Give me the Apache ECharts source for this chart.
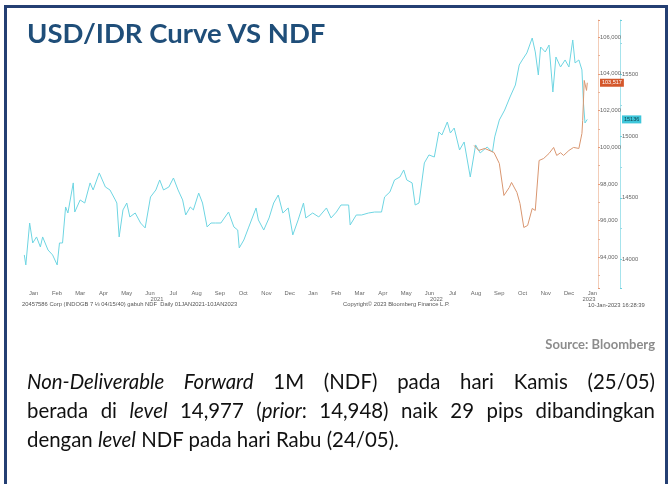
<!DOCTYPE html>
<html>
<head>
<meta charset="utf-8">
<script src="https://cdn.jsdelivr.net/npm/echarts@6/dist/echarts.min.js"></script>
<style>
  html, body { margin:0; padding:0; background:#fff; }
  body { width:671px; height:484px; position:relative; overflow:hidden; font-family: Lato, "Open Sans", sans-serif; }
  #frame { position:absolute; left:4px; top:5px; width:664px; height:520px; box-sizing:border-box;
           border:3px solid #243F73; border-bottom:none; z-index:0; }
  #chart { position:absolute; left:0; top:0; width:671px; height:484px; z-index:1; }
  .txt { position:absolute; z-index:2; white-space:nowrap; }
  #title { left:27px; top:16px; font-weight:700; font-size:27.5px; color:#1F4E79; font-family: Lato, sans-serif; }
  .foot { font-family:"Liberation Sans", sans-serif; font-size:5.8px; color:#555; }
  #source { right:16px; top:336px; font-weight:700; font-size:13px; color:#8C8C8C; font-family: Lato, sans-serif; }
  .para { position:absolute; left:27px; width:628px; z-index:2; font-size:20.4px; line-height:29px; color:#111; font-family: Lato, sans-serif; white-space:nowrap; }
  .just { text-align:justify; text-align-last:justify; }
</style>
</head>
<body>
<div id="frame"></div>
<div id="chart"></div>
<div class="txt" id="title">USD/IDR Curve VS NDF</div>
<div class="txt foot" style="left:22px; top:301px;">20457586 Corp (INDOGB 7 ⅛ 04/15/40) gabuh NDF &nbsp;Daily 01JAN2021-10JAN2023</div>
<div class="txt foot" style="left:343px; top:301px;">Copyright© 2023 Bloomberg Finance L.P.</div>
<div class="txt foot" style="left:588px; top:302px;">10-Jan-2023 16:28:39</div>
<div class="txt" id="source">Source: Bloomberg</div>
<div class="para just" style="top:367px;"><i>Non-Deliverable Forward</i> 1M (NDF) pada hari Kamis (25/05)</div>
<div class="para just" style="top:396px;">berada di <i>level</i> 14,977 (<i>prior</i>: 14,948) naik 29 pips dibandingkan</div>
<div class="para" style="top:425px;">dengan <i>level</i> NDF pada hari Rabu (24/05).</div>
<script>
// ---- Data ----
const monthLabels = ['Jan','Feb','Mar','Apr','May','Jun','Jul','Aug','Sep','Oct','Nov','Dec',
                     'Jan','Feb','Mar','Apr','May','Jun','Jul','Aug','Sep','Oct','Nov','Dec','Jan'];
const yearLabels = ['2021','2022','2023'];
const yearLabelDates = ['2021-06-25','2022-06-25','2023-01-12'];

const usdIdrDates = ['2021-01-04','2021-01-06','2021-01-11','2021-01-15','2021-01-20','2021-01-25','2021-01-28',
 '2021-02-04','2021-02-10','2021-02-16','2021-02-19','2021-02-23','2021-02-27','2021-03-02','2021-03-09','2021-03-11',
 '2021-03-18','2021-03-24','2021-03-31','2021-04-04','2021-04-12','2021-04-16','2021-04-20','2021-04-26','2021-05-03',
 '2021-05-05','2021-05-08','2021-05-13','2021-05-18','2021-05-22','2021-05-29','2021-06-05','2021-06-11','2021-06-18',
 '2021-06-25','2021-06-30','2021-07-05','2021-07-12','2021-07-18','2021-07-24','2021-07-30','2021-08-03','2021-08-09',
 '2021-08-13','2021-08-20','2021-08-25','2021-08-31','2021-09-05','2021-09-11','2021-09-18','2021-09-28','2021-10-05',
 '2021-10-10','2021-10-12','2021-10-18','2021-10-24','2021-11-03','2021-11-06','2021-11-13','2021-11-20','2021-11-26',
 '2021-12-02','2021-12-08','2021-12-15','2021-12-21','2021-12-28','2022-01-04','2022-01-07','2022-01-16','2022-01-24',
 '2022-02-03','2022-02-09','2022-02-16','2022-02-22','2022-03-04','2022-03-06','2022-03-14','2022-03-21','2022-03-30',
 '2022-04-07','2022-04-16','2022-04-20','2022-04-27','2022-05-03','2022-05-10','2022-05-15','2022-05-19','2022-05-26',
 '2022-05-30','2022-06-04','2022-06-11','2022-06-17','2022-06-24','2022-06-30','2022-07-04','2022-07-11','2022-07-15',
 '2022-07-20','2022-07-27','2022-08-02','2022-08-10','2022-08-17','2022-08-23','2022-09-01','2022-09-08','2022-09-11',
 '2022-09-17','2022-09-24','2022-10-01','2022-10-08','2022-10-13','2022-10-17','2022-10-23','2022-10-30','2022-11-03',
 '2022-11-07','2022-11-10','2022-11-16','2022-11-21','2022-11-26','2022-11-30','2022-12-06','2022-12-12','2022-12-17',
 '2022-12-22','2022-12-25','2022-12-30','2023-01-03','2023-01-05','2023-01-07','2023-01-10'];
const usdIdrValues = [14037,13956,14296,14134,14183,14102,14183,
 14077,14037,13956,14134,14134,14426,14377,14621,14385,
 14483,14458,14621,14564,14702,14645,14588,14564,14483,
 14458,14183,14402,14458,14345,14377,14296,14256,14507,
 14564,14645,14564,14588,14661,14564,14483,14361,14426,
 14402,14539,14458,14264,14296,14296,14296,14385,14264,
 14239,14094,14158,14256,14418,14321,14239,14337,14458,
 14523,14377,14418,14199,14321,14458,14337,14377,14345,
 14418,14337,14385,14442,14442,14280,14361,14361,14377,
 14385,14385,14507,14548,14645,14669,14726,14645,14621,
 14442,14458,14783,14848,14831,15034,15010,15115,15026,
 15066,14888,14953,14669,14929,14864,14912,14872,14994,
 15131,15212,15318,15415,15577,15618,15675,15796,15683,
 15496,15723,15683,15739,15358,15642,15561,15618,15561,
 15780,15594,15618,15537,15269,15107,15136];

const ndfDates = ['2022-08-15','2022-08-21','2022-08-29','2022-09-10','2022-09-17','2022-09-23','2022-09-30',
 '2022-10-03','2022-10-10','2022-10-14','2022-10-19','2022-10-24','2022-10-30','2022-11-03','2022-11-08','2022-11-14',
 '2022-11-21','2022-11-27','2022-12-01','2022-12-06','2022-12-10','2022-12-17','2022-12-23','2022-12-30','2023-01-03',
 '2023-01-04','2023-01-06','2023-01-09','2023-01-10'];
const ndfValues = [100098,99825,99935,99716,99116,97371,97807,
 98080,97535,96935,95626,95735,96662,96553,99280,99389,
 99662,99989,99553,99700,99553,99825,99989,99935,100753,
 101462,103643,103098,103517];

// ---- Build chart ----
const toTs = s => { const [y,m,d] = s.split('-').map(Number); return new Date(y, m-1, d).getTime(); };
// months since 2021-01-01, fractional (used only for the label axis)
const toMonths = s => { const [y,m,d] = s.split('-').map(Number);
  const dim = new Date(y, m, 0).getDate(); return (y-2021)*12 + (m-1) + (d-1)/dim; };
const xMinDate = '2021-01-01', xMaxDate = '2023-01-24';
const monthTicks = monthLabels.map((_, i) => i + 0.5);
const yearTicks = yearLabelDates.map(toMonths);
const usdIdr = usdIdrDates.map((d, i) => [toTs(d), usdIdrValues[i]]);
const ndf = ndfDates.map((d, i) => [toTs(d), ndfValues[i]]);

const chart = echarts.init(document.getElementById('chart'), null, {renderer:'canvas'});
const tinyFont = { fontSize: 5.8, color: '#666', fontFamily: 'Liberation Sans' };
const findLabel = (arr, ticks, v) => { const i = ticks.findIndex(t => Math.abs(t - v) < 1e-6); return i >= 0 ? arr[i] : ''; };
chart.setOption({
  animation: false,
  backgroundColor: 'transparent',
  grid: { left: 22, right: 73, top: 20, bottom: 196 },
  xAxis: [
    { type:'time', min:toTs(xMinDate), max:toTs(xMaxDate), axisLine:{show:false, onZero:false}, axisTick:{show:false},
      splitLine:{show:false}, axisLabel:{show:false} },
    { type:'value', min:0, max:toMonths(xMaxDate), position:'bottom', axisLine:{show:false, onZero:false}, axisTick:{show:false},
      splitLine:{show:false},
      axisLabel: Object.assign({ customValues: monthTicks, margin: 2, hideOverlap:false, showMinLabel:true, showMaxLabel:true,
        formatter: v => findLabel(monthLabels, monthTicks, v) }, tinyFont) },
    { type:'value', min:0, max:toMonths(xMaxDate), position:'bottom', axisLine:{show:false, onZero:false}, axisTick:{show:false},
      splitLine:{show:false},
      axisLabel: Object.assign({ customValues: yearTicks, margin: 8, hideOverlap:false, showMinLabel:true, showMaxLabel:true,
        formatter: v => findLabel(yearLabels, yearTicks, v) }, tinyFont) }
  ],
  yAxis: [
    { type:'value', position:'right', min:92326, max:106938, splitNumber:7, scale:true,
      axisLine:{show:true, onZero:false, lineStyle:{color:'#F3CDB8', width:1}},
      axisTick:{show:true, length:2, lineStyle:{color:'#E59A78'}},
      minorTick:{show:true, splitNumber:2, length:2, lineStyle:{color:'#E9B49A'}},
      splitLine:{show:false},
      axisLabel: Object.assign({ margin:2, showMinLabel:false, showMaxLabel:false,
        formatter: v => Math.round(v).toLocaleString('en-US') }, tinyFont) },
    { type:'value', position:'right', offset:22, min:13769, max:15942, splitNumber:4, scale:true,
      axisLine:{show:true, onZero:false, lineStyle:{color:'#A6E3EC', width:1}},
      axisTick:{show:true, length:2, lineStyle:{color:'#6FD0DD'}},
      minorTick:{show:true, splitNumber:2, length:2, lineStyle:{color:'#9ADCE6'}},
      splitLine:{show:false},
      axisLabel: Object.assign({ margin:2, showMinLabel:false, showMaxLabel:false,
        formatter: v => String(Math.round(v)) }, tinyFont) }
  ],
  series: [
    { name:'USD/IDR', type:'line', xAxisIndex:0, yAxisIndex:1, data:usdIdr, showSymbol:false,
      lineStyle:{color:'#6ED5E2', width:1}, itemStyle:{color:'#6ED5E2'},
      markLine:{ silent:true, symbol:'none', lineStyle:{color:'rgba(0,0,0,0)', width:0},
        label:{ show:true, position:'end', distance:24, formatter: p => String(p.value), backgroundColor:'#3EC6DA',
                color:'#0B3D4A', fontSize:5.5, padding:[1,2], fontFamily:'Liberation Sans' },
        data:[{ yAxis: usdIdrValues[usdIdrValues.length-1] }] } },
    { name:'NDF', type:'line', xAxisIndex:0, yAxisIndex:0, data:ndf, showSymbol:false,
      lineStyle:{color:'#D99670', width:1}, itemStyle:{color:'#D99670'},
      markLine:{ silent:true, symbol:'none', lineStyle:{color:'rgba(0,0,0,0)', width:0},
        label:{ show:true, position:'end', distance:2, formatter: p => Number(p.value).toLocaleString('en-US'), backgroundColor:'#D4572B',
                color:'#fff', fontSize:5.5, padding:[1,2], fontFamily:'Liberation Sans' },
        data:[{ yAxis: ndfValues[ndfValues.length-1] }] } }
  ]
});
</script>
</body>
</html>
